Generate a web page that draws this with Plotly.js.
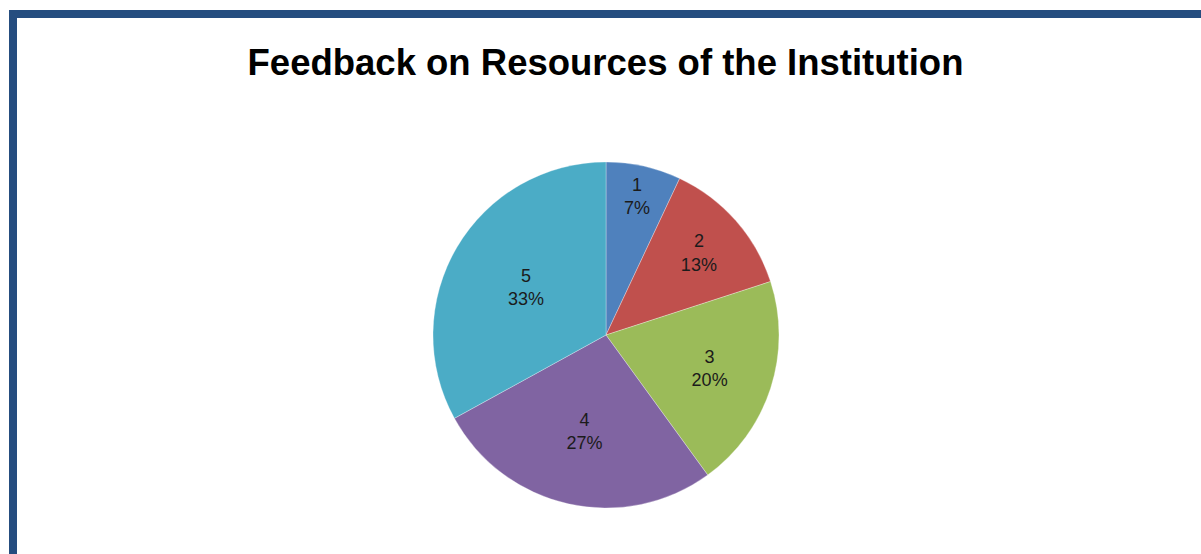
<!DOCTYPE html>
<html>
<head>
<meta charset="utf-8">
<script src="https://cdn.plot.ly/plotly-3.0.1.min.js"></script>
<style>
html,body{margin:0;padding:0;background:#fff;}
#chart{width:1201px;height:554px;}
</style>
</head>
<body>
<div id="chart"></div>
<script>
const categories = ["1", "2", "3", "4", "5"];
const shares = [7, 13, 20, 27, 33];
const sliceColors = ["#4F81BD", "#C0504D", "#9BBB59", "#8064A2", "#4BACC6"];
const chartTitle = "Feedback on Resources of the Institution";

const W = 1201, H = 554;
const cx = 606, cy = 335, r = 173;

const trace = {
  type: "pie",
  labels: categories,
  values: shares,
  sort: false,
  direction: "clockwise",
  rotation: 0,
  marker: {colors: sliceColors, line: {color: "rgba(255,255,255,0.6)", width: 0.5}},
  texttemplate: "%{label}<br>%{percent:.0%}",
  textposition: "inside",
  insidetextorientation: "horizontal",
  textfont: {family: "Liberation Sans, Arial, sans-serif", size: 18, color: "#1b1b1b"},
  hoverinfo: "label+percent",
  showlegend: false,
  domain: {x: [(cx - r) / W, (cx + r) / W], y: [(H - cy - r) / H, (H - cy + r) / H]}
};

const layout = {
  width: W, height: H,
  margin: {l: 0, r: 0, t: 0, b: 0},
  paper_bgcolor: "#ffffff",
  title: {
    text: "<b>" + chartTitle + "</b>",
    x: 605.5 / W, xanchor: "center",
    y: 1 - 62 / H, yanchor: "middle",
    font: {family: "Liberation Sans, Arial, sans-serif", size: 36.5, color: "#000000"}
  },
  shapes: [{
    type: "rect", xref: "paper", yref: "paper",
    x0: 13 / W, x1: 1.05, y0: -0.05, y1: 1 - 14 / H,
    line: {color: "#254D7F", width: 8},
    fillcolor: "rgba(0,0,0,0)"
  }]
};

Plotly.newPlot("chart", [trace], layout, {displayModeBar: false, staticPlot: true});
</script>
</body>
</html>
